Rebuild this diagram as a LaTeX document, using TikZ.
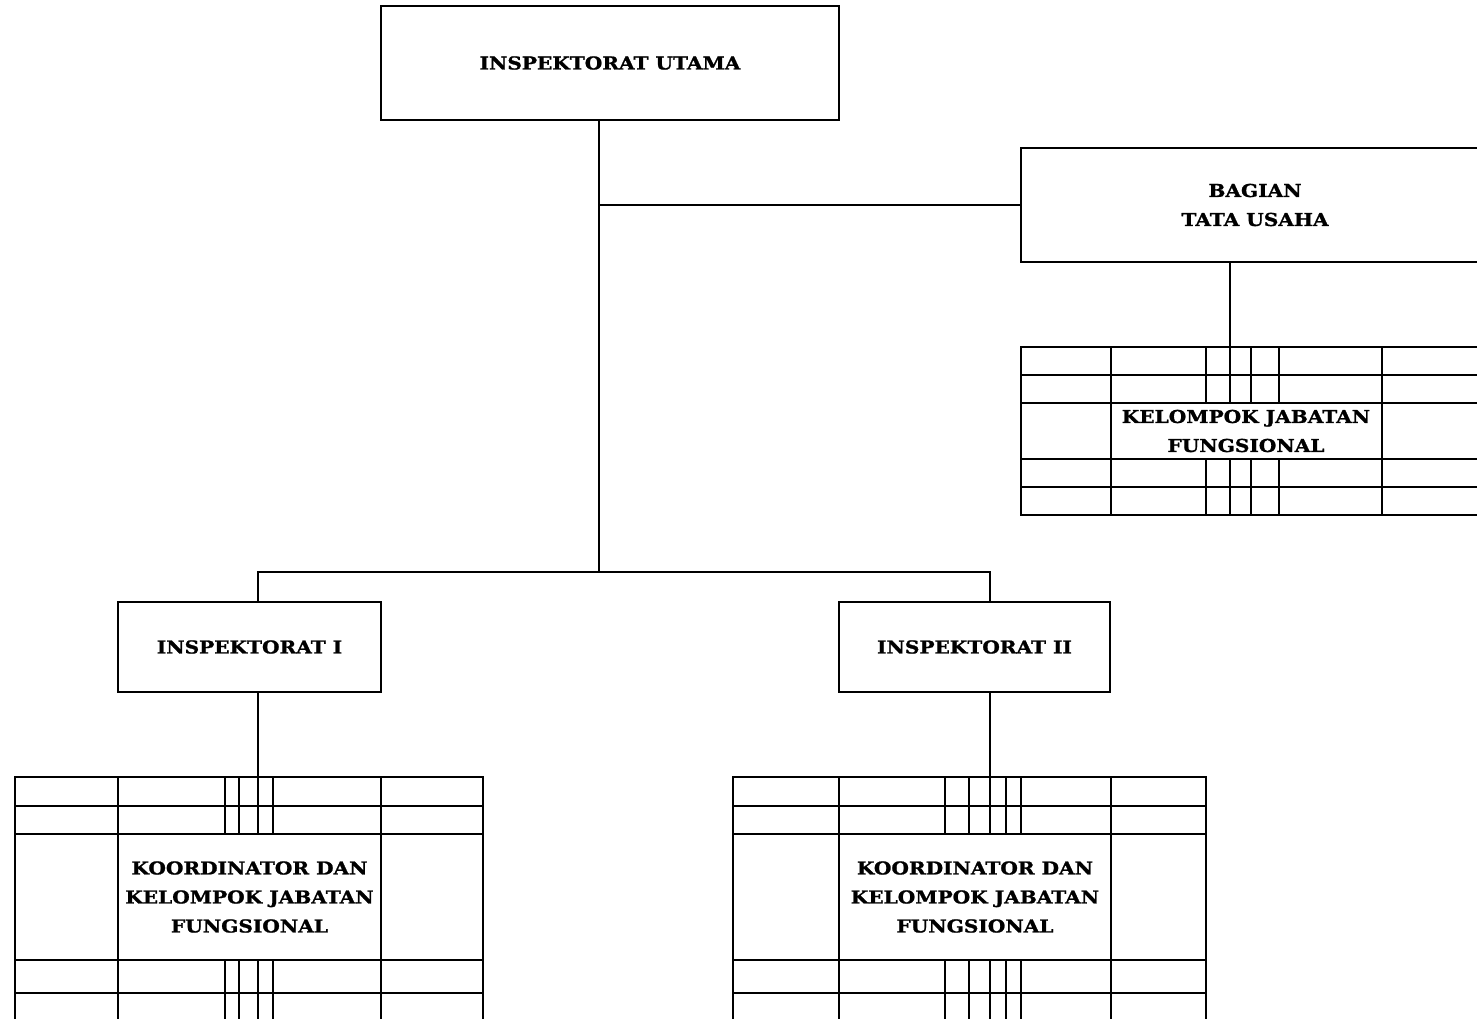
\documentclass[tikz,border=0pt]{standalone}
\usepackage{fontspec}
\setmainfont{DejaVu Serif}[BoldFont={DejaVu Serif Bold},BoldFeatures={FakeStretch=1.13,FakeBold=1.2}]
\begin{document}
\begin{tikzpicture}[x=1pt,y=-1pt,line width=2.6pt,line cap=rect,
  box/.style={draw,rectangle,inner sep=0pt,align=center,font=\bfseries\fontsize{17.8}{29}\selectfont},
  lbl/.style={inner sep=0pt,align=center,font=\bfseries\fontsize{17.8}{29}\selectfont},
  conn/.style={draw,line width=2.6pt}]
\useasboundingbox (0,0) rectangle (1477,1019);
\clip (0,0) rectangle (1477,1019);
% boxes
\node[box,minimum width=458pt,minimum height=114pt] (iu) at (610,63) {INSPEKTORAT UTAMA};
\node[box,minimum width=468pt,minimum height=114pt] (bag) at (1255,205) {BAGIAN\\TATA USAHA};
\node[box,minimum width=263pt,minimum height=90pt] (i1) at (249.5,647) {INSPEKTORAT I};
\node[box,minimum width=271pt,minimum height=90pt] (i2) at (974.5,647) {INSPEKTORAT II};
% grid text cells
\node[lbl] (kr) at (1246,431) {KELOMPOK JABATAN\\FUNGSIONAL};
\node[lbl] (kl) at (249.5,897) {KOORDINATOR DAN\\KELOMPOK JABATAN\\FUNGSIONAL};
\node[lbl] (km) at (975,897) {KOORDINATOR DAN\\KELOMPOK JABATAN\\FUNGSIONAL};
% grid anchor coordinates
\coordinate (rtop) at (1230,347);
\coordinate (ltop) at (258,777);
\coordinate (mtop) at (990,777);
\coordinate (hub) at (599,572);
\coordinate (lhub) at (258,572);
\coordinate (rhub) at (990,572);
% right grid
\foreach \y in {347,375,403,459,487,515} \draw (1021,\y) -- (1489,\y);
\foreach \x in {1021,1111,1382,1489} \draw (\x,347) -- (\x,515);
\foreach \x in {1206,1230,1251,1279} {\draw (\x,347) -- (\x,403); \draw (\x,459) -- (\x,515);}
% left grid
\foreach \y in {777,806,834,960,993} \draw (15,\y) -- (483,\y);
\foreach \x in {15,118,381,483} \draw (\x,777) -- (\x,1030);
\foreach \x in {225,239,258,273} {\draw (\x,777) -- (\x,834); \draw (\x,960) -- (\x,1030);}
% middle grid
\foreach \y in {777,806,834,960,993} \draw (733,\y) -- (1206,\y);
\foreach \x in {733,839,1111,1206} \draw (\x,777) -- (\x,1030);
\foreach \x in {945,969,990,1006,1021} {\draw (\x,777) -- (\x,834); \draw (\x,960) -- (\x,1030);}
% connectors
\draw[conn] (iu.south -| hub) -- (hub);
\draw[conn] (bag.west -| hub) -- (bag.west);
\draw[conn] (lhub) -- (rhub);
\draw[conn] (lhub) -- (i1.north -| lhub);
\draw[conn] (rhub) -- (i2.north -| rhub);
\draw[conn] (i1.south -| ltop) -- (ltop);
\draw[conn] (i2.south -| mtop) -- (mtop);
\draw[conn] (bag.south -| rtop) -- (rtop);
\end{tikzpicture}
\end{document}
